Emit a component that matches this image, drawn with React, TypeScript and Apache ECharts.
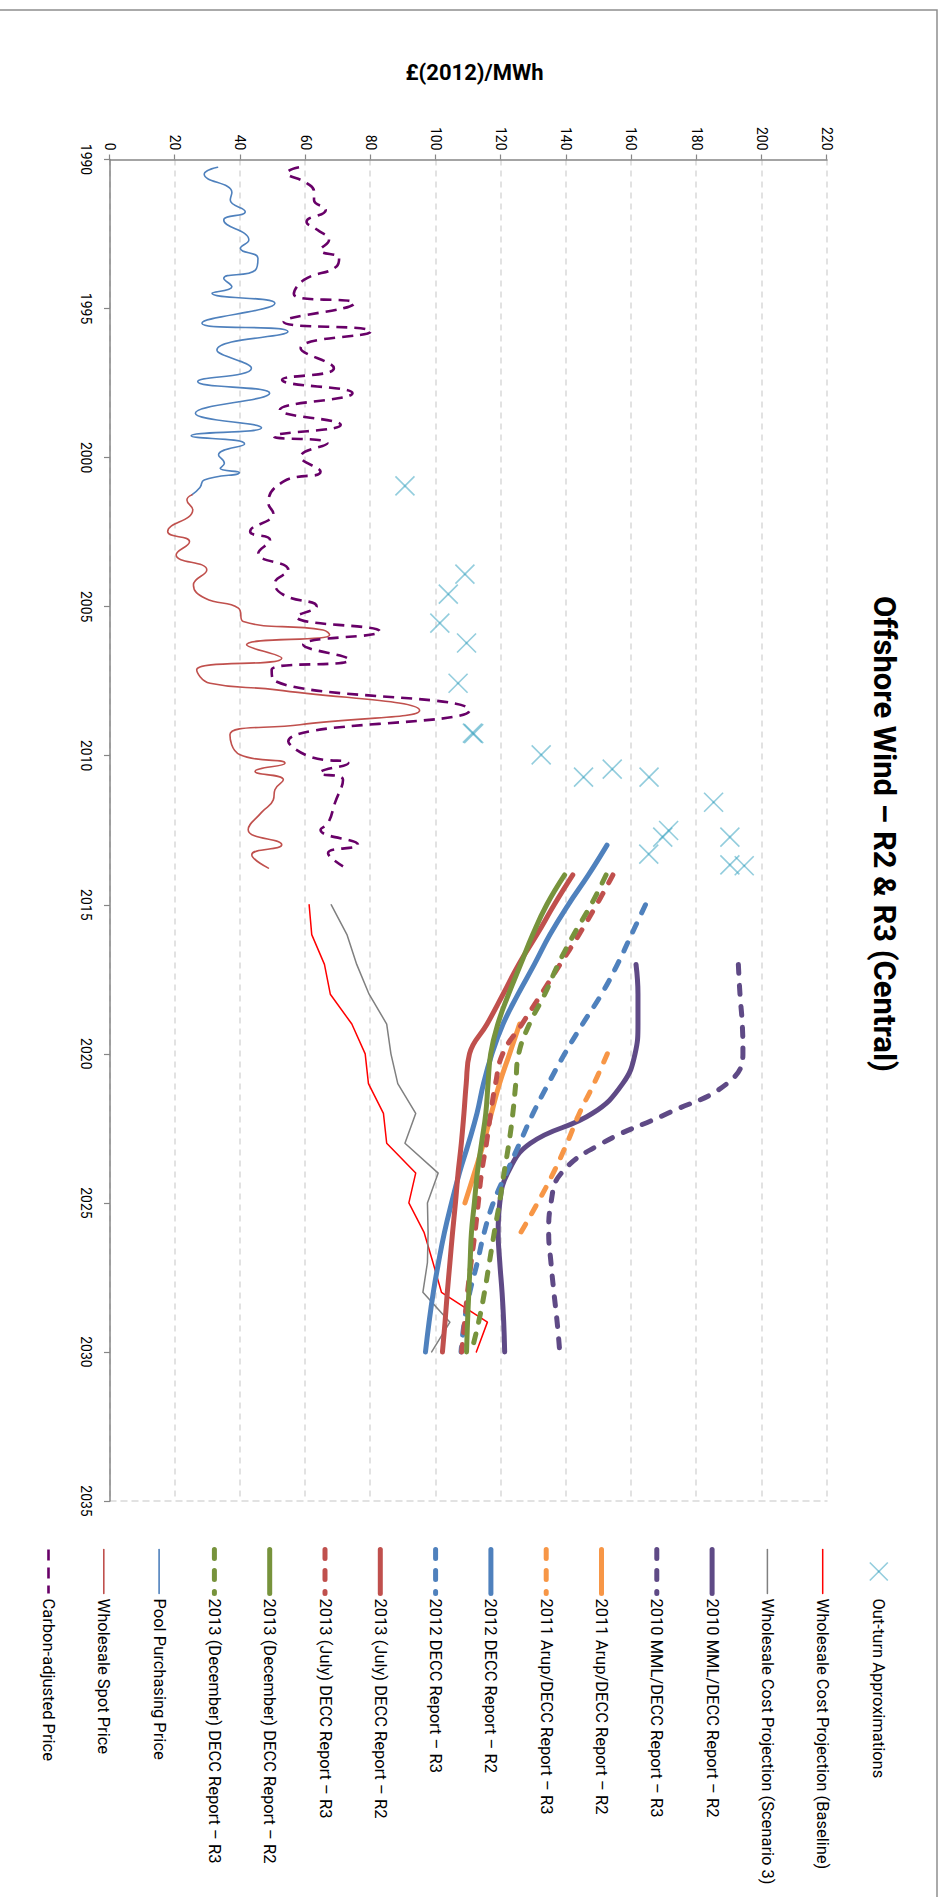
import React, { useEffect, useRef } from "react";
import * as echarts from "echarts";

// Landscape drawing size; the finished chart is turned a quarter turn clockwise.
const CHART_W = 1897;
const CHART_H = 947;
const PAGE_W = 947;
const PAGE_H = 1897;

const TITLE = "Offshore Wind – R2 & R3 (Central)";
const VALUE_AXIS_NAME = "£(2012)/MWh";

const SERIES_NAMES = [
  "Out-turn Approximations",
  "Wholesale Cost Projection (Baseline)",
  "Wholesale Cost Projection (Scenario 3)",
  "2010 MML/DECC Report – R2",
  "2010 MML/DECC Report – R3",
  "2011 Arup/DECC Report – R2",
  "2011 Arup/DECC Report – R3",
  "2012 DECC Report – R2",
  "2012 DECC Report – R3",
  "2013 (July) DECC Report – R2",
  "2013 (July) DECC Report – R3",
  "2013 (December) DECC Report – R2",
  "2013 (December) DECC Report – R3",
  "Pool Purchasing Price",
  "Wholesale Spot Price",
  "Carbon-adjusted Price",
];

// Out-turn cost approximations: [year, £/MWh]
const outTurn: [number, number][] = [
  [2000.95, 90.5], [2003.91, 108.9], [2004.58, 103.8], [2005.55, 101.2],
  [2006.22, 109.4], [2007.57, 106.8], [2009.24, 111.2], [2009.26, 111.6],
  [2009.97, 132.3], [2010.45, 154.1], [2010.72, 145.3], [2010.72, 165.4],
  [2011.56, 185.2], [2012.51, 171.4], [2012.73, 169.6], [2013.3, 165.3],
  [2012.73, 190.2], [2013.66, 190.2], [2013.69, 194.6],
];

// Historic prices: [year, £/MWh]
const poolPrice: [number, number][] = [
  [1990.26, 33.0], [1990.49, 28.9], [1991.11, 37.4], [1991.36, 36.9], [1991.75, 41.5],
  [1992.03, 34.9], [1992.7, 42.6], [1992.98, 40.0], [1993.31, 45.4], [1993.71, 44.6],
  [1993.99, 34.9], [1994.27, 37.4], [1994.49, 31.3], [1994.82, 50.6], [1995.49, 28.2],
  [1995.77, 54.6], [1996.39, 32.8], [1997.0, 43.4], [1997.45, 26.9], [1997.84, 49.0],
  [1998.51, 26.2], [1999.0, 46.5], [1999.27, 24.9], [1999.54, 41.3], [1999.91, 33.3],
  [2000.19, 35.1], [2000.36, 33.8], [2000.5, 39.7], [2000.75, 28.9], [2001.0, 27.6],
  [2001.25, 25.1],
];

const spotPrice: [number, number][] = [
  [2001.25, 25.1], [2001.42, 23.6], [2001.75, 25.4], [2002.48, 17.7], [2002.82, 24.4],
  [2003.26, 20.3], [2003.77, 29.7], [2004.27, 25.6], [2004.72, 29.2], [2005.05, 39.4],
  [2005.5, 40.9], [2005.78, 65.4], [2005.95, 67.4], [2006.28, 41.9], [2006.73, 52.7],
  [2007.12, 26.6], [2007.57, 30.7], [2007.79, 51.1], [2008.48, 95.0], [2008.96, 58.3],
  [2009.3, 36.8], [2009.97, 39.9], [2010.25, 53.7], [2010.53, 44.5], [2010.81, 53.2],
  [2011.14, 50.6], [2011.48, 50.1], [2011.9, 46.5], [2012.48, 42.4], [2012.99, 52.7],
  [2013.32, 43.5], [2013.77, 48.6],
];

const carbonAdjusted: [number, number][] = [
  [1990.26, 58.0], [1990.44, 54.4], [1990.8, 60.5], [1991.08, 62.6], [1991.36, 62.6],
  [1991.69, 66.2], [1992.09, 60.3], [1992.36, 63.6], [1992.7, 67.2], [1993.04, 64.6],
  [1993.31, 70.3], [1993.59, 69.5], [1994.04, 59.5], [1994.51, 56.4], [1994.82, 74.9],
  [1995.44, 53.3], [1995.77, 80.0], [1996.33, 58.5], [1997.0, 68.7], [1997.39, 52.8],
  [1997.84, 74.4], [1998.4, 52.1], [1998.9, 70.8], [1999.29, 50.3], [1999.52, 66.7],
  [1999.97, 58.5], [2000.47, 64.6], [2000.8, 53.3], [2001.53, 48.6], [2001.87, 50.1],
  [2002.48, 43.0], [2002.76, 49.1], [2003.21, 45.5], [2003.77, 54.7], [2004.21, 50.6],
  [2004.6, 53.2], [2004.99, 63.4], [2005.33, 57.2], [2005.83, 82.8], [2006.28, 59.3],
  [2006.78, 73.4], [2007.12, 49.6], [2007.46, 50.1], [2008.48, 110.3], [2009.52, 54.7],
  [2010.03, 61.3], [2010.25, 73.1], [2010.58, 64.4], [2010.81, 71.5], [2011.59, 69.0],
  [2012.26, 66.9], [2012.48, 64.6], [2012.99, 76.1], [2013.27, 66.9], [2013.71, 71.5],
];

// Annual projections, £/MWh, one value per year from the given first year
const wholesaleBaselineFrom = 2015;
const wholesaleBaseline = [61.1, 61.9, 65.8, 67.6, 74.2, 78.3, 79.3, 83.9, 84.9, 93.8, 91.7, 96.4, 99.1, 101.7, 115.8, 112.4];
const wholesaleScenario3From = 2015;
const wholesaleScenario3 = [67.9, 72.7, 75.7, 79.5, 84.9, 86.2, 88.3, 93.8, 90.5, 100.7, 97.4, 97.6, 97.4, 96.0, 104.3, 98.7];

const mml2010From = 2017;
const mml2010R2 = [161.4, 162.0, 162.0, 161.1, 157.3, 148.0, 129.0, 122.0, 119.6, 119.1, 119.6, 120.3, 120.8, 121.1];
const mml2010R3 = [192.8, 193.3, 194.0, 194.2, 189.3, 171.0, 151.0, 138.5, 135.3, 134.6, 135.3, 136.2, 137.2, 138.0];

const arup2011R2From = 2019;
const arup2011R2 = [125.7, 122.6, 119.5, 117.0, 114.6, 111.8, 108.9];
const arup2011R3From = 2020;
const arup2011R3 = [152.6, 148.5, 144.0, 140.2, 136.0, 131.2, 126.0];

const decc2012R2From = 2013;
const decc2012R2 = [152.5, 146.8, 140.6, 135.0, 130.2, 125.2, 120.6, 117.2, 114.6, 112.6, 110.0, 107.2, 104.8, 102.6, 100.8, 99.2, 97.9, 96.8];
const decc2012R3From = 2015;
const decc2012R3 = [164.3, 160.0, 155.7, 150.8, 145.0, 139.5, 134.5, 129.8, 125.7, 121.6, 117.6, 114.8, 112.7, 110.4, 108.7, 107.7];

const decc2013From = 2014;
const july2013R2 = [142.0, 136.3, 131.0, 125.4, 120.6, 115.7, 110.3, 109.3, 108.6, 107.8, 106.8, 106.0, 105.1, 104.3, 103.5, 102.8, 102.0];
const july2013R3 = [154.3, 149.3, 143.9, 138.1, 132.3, 126.4, 120.5, 118.3, 116.8, 115.5, 114.0, 113.0, 112.0, 110.8, 109.7, 108.8, 107.9];
const dec2013R2 = [139.5, 134.0, 129.7, 126.0, 122.3, 119.0, 116.8, 116.0, 115.3, 114.0, 112.7, 111.8, 110.9, 110.5, 110.1, 109.7, 109.4];
const dec2013R3 = [152.2, 147.6, 142.3, 137.5, 133.4, 128.7, 125.4, 124.5, 123.6, 122.4, 120.9, 119.5, 117.9, 116.4, 114.9, 113.1, 110.9];

const YEAR_MIN = 1990;
const YEAR_MAX = 2035;
const YEAR_STEP = 5;
const VALUE_MIN = 0;
const VALUE_MAX = 220;
const VALUE_STEP = 20;

const FONT = "Roboto, 'DejaVu Sans', sans-serif";

const annual = (first: number, values: number[]) => values.map((v, i) => [first + i, v]);

const COLORS = {
  outTurn: "#4BACC6",
  baseline: "#FF0000",
  scenario3: "#808080",
  mml: "#5F4A86",
  arup: "#F79646",
  decc2012: "#4F81BD",
  july2013: "#C0504D",
  dec2013: "#77933C",
  pool: "#4F81BD",
  spot: "#C0504D",
  carbon: "#680068",
};

const THICK = 5;
const DASH: number[] = [9, 12];

function thickLine(name: string, data: number[][], color: string, dashed: boolean) {
  return {
    name,
    type: "line",
    data,
    smooth: 0.45,
    symbol: "none",
    lineStyle: { color, width: THICK, type: dashed ? DASH : "solid", cap: "round", join: "round" },
    itemStyle: { color },
  };
}

function thinLine(name: string, data: number[][], color: string, width: number, smooth: number | boolean) {
  return {
    name,
    type: "line",
    data,
    smooth,
    symbol: "none",
    lineStyle: { color, width, type: "solid", cap: "round", join: "round" },
    itemStyle: { color },
  };
}

function buildOption() {
  const crossPath = "path://M0,0L20,20M20,0L0,20M9.2,9.2L10.8,9.2L10.8,10.8L9.2,10.8Z";
  // Line entries show only their stroke in the legend; the cross keeps its marker.
  const legendData = SERIES_NAMES.map((name, i) =>
    i === 0 ? { name } : { name, itemStyle: { opacity: 0 } }
  );
  return {
    animation: false,
    backgroundColor: "#ffffff",
    textStyle: { fontFamily: FONT },
    title: {
      text: TITLE,
      left: 834,
      top: 45,
      padding: 0,
      textAlign: "center",
      textVerticalAlign: "top",
      textStyle: { fontFamily: FONT, fontWeight: "bold", fontSize: 31, lineHeight: 36, color: "#000" },
    },
    graphic: [
      {
        type: "rect",
        silent: true,
        shape: { x: 10, y: 10, width: 2000, height: 1000 },
        style: { fill: "none", stroke: "#8E8E8E", lineWidth: 1.5 },
        z: -1,
      },
    ],
    legend: {
      orient: "vertical",
      left: 1547,
      top: 58.4,
      padding: 0,
      itemWidth: 44,
      itemHeight: 18,
      itemGap: 37.3,
      data: legendData,
      textStyle: { fontFamily: FONT, fontSize: 16.5, lineHeight: 18, color: "#000" },
      lineStyle: { width: "inherit" },
      itemStyle: { borderWidth: "inherit" },
    },
    grid: { left: 159.5, right: 396, top: 120, bottom: 110, outerBoundsMode: "none" },
    xAxis: {
      type: "value",
      min: YEAR_MIN,
      max: YEAR_MAX,
      interval: YEAR_STEP,
      axisLine: { show: true, onZero: false, lineStyle: { color: "#868686", width: 1.5 } },
      axisTick: { show: true, length: 6, lineStyle: { color: "#868686", width: 1.2 } },
      axisLabel: {
        margin: 17,
        fontFamily: FONT,
        fontSize: 14,
        color: "#000",
        formatter: (v: number) => String(v),
      },
      splitLine: { show: false },
    },
    yAxis: [
      {
        type: "value",
        min: VALUE_MIN,
        max: VALUE_MAX,
        interval: VALUE_STEP,
        name: VALUE_AXIS_NAME,
        nameLocation: "middle",
        nameRotate: 90,
        nameGap: 76,
        nameTextStyle: {
          fontFamily: FONT,
          fontWeight: "bold",
          fontSize: 22,
          color: "#000",
          padding: [0, 0, 0, 12],
        },
        axisLine: { show: true, onZero: false, lineStyle: { color: "#868686", width: 1.5 } },
        axisTick: { show: true, length: 5, lineStyle: { color: "#868686", width: 1.2 } },
        axisLabel: { margin: 9, fontFamily: FONT, fontSize: 14, color: "#000" },
        splitLine: { show: true, lineStyle: { color: "#D9D9D9", width: 1.5, type: [6, 5] } },
      },
      {
        type: "value",
        position: "right",
        min: VALUE_MIN,
        max: VALUE_MAX,
        interval: VALUE_STEP,
        axisLine: { show: true, onZero: false, lineStyle: { color: "#D9D9D9", width: 1.5, type: [6, 5] } },
        axisTick: { show: false },
        axisLabel: { show: false },
        splitLine: { show: false },
      },
    ],
    series: [
      {
        name: SERIES_NAMES[0],
        type: "scatter",
        data: outTurn,
        symbol: crossPath,
        symbolSize: 19,
        itemStyle: { color: "#3E9FBC", borderColor: "rgba(75,172,198,0.75)", borderWidth: 1.6 },
        z: 5,
      },
      thinLine(SERIES_NAMES[1], annual(wholesaleBaselineFrom, wholesaleBaseline), COLORS.baseline, 1.5, false),
      thinLine(SERIES_NAMES[2], annual(wholesaleScenario3From, wholesaleScenario3), COLORS.scenario3, 1.5, false),
      thickLine(SERIES_NAMES[3], annual(mml2010From, mml2010R2), COLORS.mml, false),
      thickLine(SERIES_NAMES[4], annual(mml2010From, mml2010R3), COLORS.mml, true),
      thickLine(SERIES_NAMES[5], annual(arup2011R2From, arup2011R2), COLORS.arup, false),
      thickLine(SERIES_NAMES[6], annual(arup2011R3From, arup2011R3), COLORS.arup, true),
      thickLine(SERIES_NAMES[7], annual(decc2012R2From, decc2012R2), COLORS.decc2012, false),
      thickLine(SERIES_NAMES[8], annual(decc2012R3From, decc2012R3), COLORS.decc2012, true),
      thickLine(SERIES_NAMES[9], annual(decc2013From, july2013R2), COLORS.july2013, false),
      thickLine(SERIES_NAMES[10], annual(decc2013From, july2013R3), COLORS.july2013, true),
      thickLine(SERIES_NAMES[11], annual(decc2013From, dec2013R2), COLORS.dec2013, false),
      thickLine(SERIES_NAMES[12], annual(decc2013From, dec2013R3), COLORS.dec2013, true),
      thinLine(SERIES_NAMES[13], poolPrice, COLORS.pool, 1.6, 0.5),
      thinLine(SERIES_NAMES[14], spotPrice, COLORS.spot, 1.6, 0.5),
      {
        name: SERIES_NAMES[15],
        type: "line",
        data: carbonAdjusted,
        smooth: 0.5,
        symbol: "none",
        lineStyle: { color: COLORS.carbon, width: 2.6, type: [11, 7], cap: "butt", join: "round" },
        itemStyle: { color: COLORS.carbon },
      },
    ],
  };
}

export default function App() {
  const ref = useRef<HTMLDivElement>(null);

  useEffect(() => {
    if (!ref.current) return;
    const chart = echarts.init(ref.current, null, { renderer: "svg", width: CHART_W, height: CHART_H });
    chart.setOption(buildOption() as any);
    return () => chart.dispose();
  }, []);

  return (
    <div
      style={{
        position: "absolute",
        left: 0,
        top: 0,
        width: PAGE_W,
        height: PAGE_H,
        overflow: "hidden",
        background: "#fff",
      }}
    >
      <div
        ref={ref}
        style={{
          position: "absolute",
          left: 0,
          top: 0,
          width: CHART_W,
          height: CHART_H,
          transformOrigin: "0 0",
          transform: `translate(${PAGE_W}px, 0px) rotate(90deg)`,
        }}
      />
    </div>
  );
}
